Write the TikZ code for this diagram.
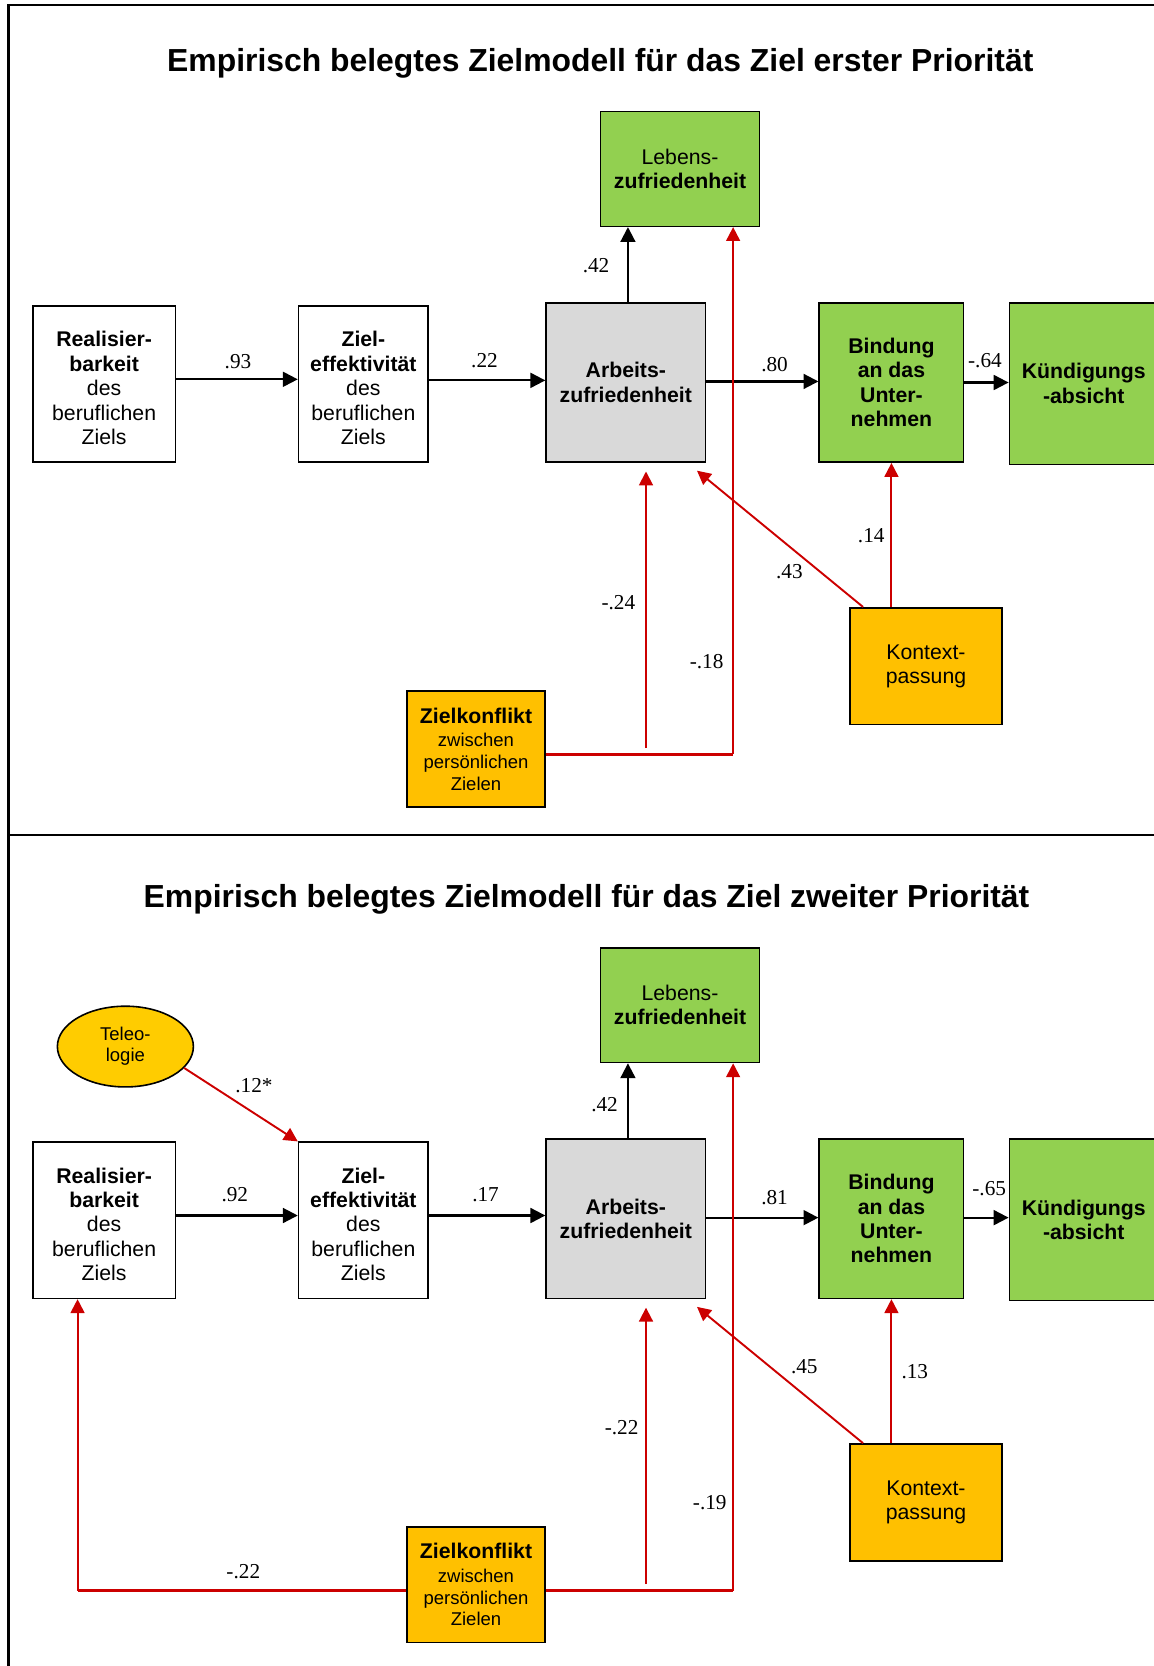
\documentclass[tikz,border=0pt]{standalone}
\usepackage{fontspec}
\setmainfont{Liberation Sans}
\newfontfamily\numfont{Liberation Serif}
\usetikzlibrary{arrows.meta,shapes.geometric,calc}

\definecolor{boxgreen}{HTML}{92D050}
\definecolor{boxorange}{HTML}{FFC000}
\definecolor{boxgray}{HTML}{D9D9D9}
\definecolor{ovalyellow}{HTML}{FFCC00}
\definecolor{pathred}{HTML}{CC0000}

\newcommand{\smallfont}{\fontsize{8.7}{10}\selectfont}
\newcommand{\topstrut}{\rule{0pt}{11pt}}

\tikzset{
  box/.style={draw=black, line width=0.75pt, inner sep=0pt, align=center,
    font=\fontsize{10}{11.5}\selectfont},
  whitebox/.style={box, fill=white, minimum width=67pt, minimum height=73.5pt},
  effbox/.style={box, fill=white, minimum width=61pt, minimum height=73.5pt},
  graybox/.style={box, fill=boxgray, minimum width=75pt, minimum height=75pt},
  lifebox/.style={box, fill=boxgreen, minimum width=75pt, minimum height=54pt},
  bindbox/.style={box, fill=boxgreen, minimum width=68pt, minimum height=75pt},
  quitbox/.style={box, fill=boxgreen, minimum width=70pt, minimum height=76pt},
  fitbox/.style={box, fill=boxorange, minimum width=71.5pt, minimum height=55pt},
  conflictbox/.style={box, fill=boxorange, minimum width=65pt, minimum height=54.5pt},
  oval/.style={ellipse, draw=black, line width=0.75pt, fill=ovalyellow, inner sep=0pt,
    minimum width=64pt, minimum height=38pt, align=center,
    font=\fontsize{8.7}{10}\selectfont},
  heading/.style={font=\fontsize{15}{18}\selectfont\bfseries},
  coef/.style={font=\numfont\fontsize{10}{12}\selectfont, inner sep=0pt},
  arr/.style={line width=1pt, -{Triangle[length=7pt,width=7pt]}},
  redarr/.style={draw=pathred, line width=0.9pt, -{Triangle[length=6.5pt,width=6.5pt]}, color=pathred},
  redline/.style={draw=pathred, line width=1.4pt},
  frame/.style={line width=1pt}
}

\begin{document}
\begin{tikzpicture}[x=0.5pt, y=-0.5pt]
\useasboundingbox (0,0) rectangle (1086,1568);

% outer frame and divider
\draw[frame] (8,1570) -- (8,5) -- (1090,5);
\draw[frame] (8,786) -- (1090,786);

% ---------------- upper model ----------------
\node[heading] (title1) at (565,60) {Empirisch belegtes Zielmodell für das Ziel erster Priorität};

\node[lifebox] (L1) at (640,159) {Lebens-\\\textbf{zufriedenheit}};
\node[whitebox] (R1) at (98,361.5) {\topstrut\textbf{Realisier-}\\\textbf{barkeit}\\des\\beruflichen\\Ziels};
\node[effbox] (Z1) at (342,361.5) {\topstrut\textbf{Ziel-}\\\textbf{effektivität}\\des\\beruflichen\\Ziels};
\node[graybox] (A1) at (589,360) {\textbf{Arbeits-}\\\textbf{zufriedenheit}};
\node[bindbox] (B1) at (839,360) {\textbf{Bindung}\\\textbf{an das}\\\textbf{Unter-}\\\textbf{nehmen}};
\node[quitbox] (K1) at (1020,361) {\textbf{Kündigungs}\\\textbf{-absicht}};
\node[fitbox] (KP1) at (871.5,627) {Kontext-\\passung};
\node[conflictbox] (ZK1) at (448,705) {\textbf{Zielkonflikt}\\[-0.5pt]\smallfont zwischen\\[-1.2pt]\smallfont persönlichen\\[-1.2pt]\smallfont Zielen};

\draw[arr] (R1.east |- 0,357) -- (Z1.west |- 0,357);
\draw[arr] (Z1.east |- 0,358) -- (A1.west |- 0,358);
\draw[arr] (A1.east |- 0,359) -- (B1.west |- 0,359);
\draw[arr] (B1.east |- 0,360) -- (K1.west |- 0,360);
\draw[arr] (A1.north -| 591,0) -- (L1.south -| 591,0);

\coordinate (c1) at (690,710);
\coordinate (v1) at (608,704);
\draw[redline] (ZK1.east |- c1) -- (c1);
\draw[redarr] (c1) -- (L1.south -| c1);
\draw[redarr, shorten >=4pt] (v1) -- (A1.south -| v1);
\draw[redarr] ($(KP1.north west)+(13,0)$) -- (656,443);
\draw[redarr] (KP1.north -| B1.south) -- (B1.south);

\node[coef] (n93a) at (224,340) {.93};
\node[coef] (n22a) at (456,339) {.22};
\node[coef] (n80a) at (729,343) {.80};
\node[coef] (n64a) at (927,339) {-.64};
\node[coef] (n42a) at (561,250) {.42};
\node[coef] (n24a) at (582,567) {-.24};
\node[coef] (n18a) at (665,623) {-.18};
\node[coef] (n43a) at (743,538) {.43};
\node[coef] (n14a) at (820,504) {.14};

% ---------------- lower model ----------------
\node[heading] (title2) at (552,846) {Empirisch belegtes Zielmodell für das Ziel zweiter Priorität};

\node[lifebox] (L2) at (640,946) {Lebens-\\\textbf{zufriedenheit}};
\node[oval] (T2) at (118,985) {Teleo-\\logie};
\node[whitebox] (R2) at (98,1148.5) {\topstrut\textbf{Realisier-}\\\textbf{barkeit}\\des\\beruflichen\\Ziels};
\node[effbox] (Z2) at (342,1148.5) {\topstrut\textbf{Ziel-}\\\textbf{effektivität}\\des\\beruflichen\\Ziels};
\node[graybox] (A2) at (589,1147) {\textbf{Arbeits-}\\\textbf{zufriedenheit}};
\node[bindbox] (B2) at (839,1147) {\textbf{Bindung}\\\textbf{an das}\\\textbf{Unter-}\\\textbf{nehmen}};
\node[quitbox] (K2) at (1020,1148) {\textbf{Kündigungs}\\\textbf{-absicht}};
\node[fitbox] (KP2) at (871.5,1414) {Kontext-\\passung};
\node[conflictbox] (ZK2) at (448,1491.5) {\textbf{Zielkonflikt}\\[-0.5pt]\smallfont zwischen\\[-1.2pt]\smallfont persönlichen\\[-1.2pt]\smallfont Zielen};

\draw[arr] (R2.east |- 0,1144) -- (Z2.west |- 0,1144);
\draw[arr] (Z2.east |- 0,1144) -- (A2.west |- 0,1144);
\draw[arr] (A2.east |- 0,1146) -- (B2.west |- 0,1146);
\draw[arr] (B2.east |- 0,1146) -- (K2.west |- 0,1146);
\draw[arr] (A2.north -| 591,0) -- (L2.south -| 591,0);

\draw[redarr] (T2.-20) -- (Z2.north west);

\coordinate (c2) at (690,1497);
\coordinate (c3) at (73,1497);
\coordinate (v2) at (608,1491);
\draw[redline] (ZK2.east |- c2) -- (c2);
\draw[redarr] (c2) -- (L2.south -| c2);
\draw[redline] (ZK2.west |- c3) -- (c3);
\draw[redarr] (c3) -- (R2.south -| c3);
\draw[redarr, shorten >=4pt] (v2) -- (A2.south -| v2);
\draw[redarr] ($(KP2.north west)+(13,0)$) -- (656,1230);
\draw[redarr] (KP2.north -| B2.south) -- (B2.south);

\node[coef] (n12b) at (239,1022) {.12*};
\node[coef] (n92b) at (221,1124) {.92};
\node[coef] (n17b) at (457,1124) {.17};
\node[coef] (n81b) at (729,1127) {.81};
\node[coef] (n65b) at (931,1119) {-.65};
\node[coef] (n42b) at (569,1040) {.42};
\node[coef] (n45b) at (757,1286) {.45};
\node[coef] (n13b) at (861,1291) {.13};
\node[coef] (n22c) at (585,1344) {-.22};
\node[coef] (n19b) at (668,1414) {-.19};
\node[coef] (n22d) at (229,1479) {-.22};
\end{tikzpicture}
\end{document}
